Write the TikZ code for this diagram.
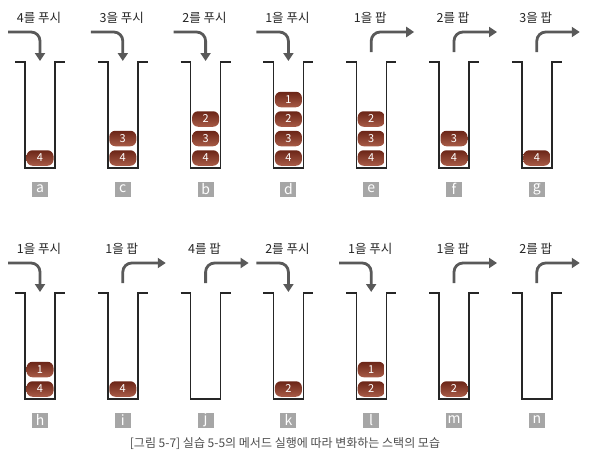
\documentclass[tikz,border=0pt]{standalone}
\usepackage{fontspec}
\setmainfont{Noto Sans CJK KR}
\usetikzlibrary{arrows.meta,calc}

\definecolor{ballDark}{HTML}{6B2517}
\definecolor{ballLight}{HTML}{A85B47}

\begin{document}
\begin{tikzpicture}[x=1pt,y=-1pt,
    wall/.style={line width=1.4pt,draw=black!85},
    move/.style={line width=2.8pt,draw=black!65,rounded corners=9pt,-{Triangle[length=8pt,width=10pt]}},
    ball/.style={rounded corners=6pt,minimum width=27pt,minimum height=15.5pt,inner sep=0pt,
      top color=ballDark,bottom color=ballLight,text=white,font=\fontsize{11}{12}\selectfont},
    tag/.style={fill=black!35,text=white,minimum width=16pt,minimum height=15pt,inner sep=0pt,
      font=\fontsize{14}{14}\selectfont},
    op/.style={text=black!85,font=\fontsize{12.5}{14}\selectfont}]
    \useasboundingbox (0,0) rectangle (590,471);

    % Stacks with their operation and letter
    \foreach \i/\s/\r/\op in {0/a/0/4를 푸시, 1/c/0/3을 푸시, 2/b/0/2를 푸시, 3/d/0/1을 푸시,
        4/e/0/1을 팝, 5/f/0/2를 팝, 6/g/0/3을 팝,
        0/h/1/1을 푸시, 1/i/1/1을 팝, 2/j/1/4를 팝, 3/k/1/2를 푸시,
        4/l/1/1을 푸시, 5/m/1/1을 팝, 6/n/1/2를 팝}{
      \coordinate (\s) at ({40+82.8*\i},{62+231*\r});
      \draw[wall] ($(\s)+(-25,0)$) -- ++(10,0) -- ++(0,106) -- ++(30,0) -- ++(0,-106) -- ++(10,0);
      \node[op] (\s-op) at ($(\s)+(-1,-44)$) {\op};
      \node[tag] (\s-tag) at ($(\s)+(0,127)$) {\s};
    }

    % Push arrows
    \foreach \s in {a,c,b,d,h,k,l}
      \draw[move] ($(\s)+(-32,-30)$) -- ($(\s)+(0,-30)$) -- ($(\s)+(0,-1)$);

    % Pop arrows
    \foreach \s in {e,f,g,i,j,m,n}
      \draw[move] ($(\s)+(0,-10)$) -- ($(\s)+(0,-30)$) -- ($(\s)+(43,-30)$);

    % Stack contents
    \foreach \s/\k/\v in {a/1/4, c/1/4, c/2/3, b/1/4, b/2/3, b/3/2,
        d/1/4, d/2/3, d/3/2, d/4/1, e/1/4, e/2/3, e/3/2, f/1/4, f/2/3, g/1/4,
        h/1/4, h/2/1, i/1/4, k/1/2, l/1/2, l/2/1, m/1/2}
      \node[ball] (\s-\k) at ($(\s)+(0,{96-19.5*(\k-1)})$) {\v};

    \node[text=black!70,font=\fontsize{12}{14}\selectfont] (caption) at (285,444)
      {[그림 5-7] 실습 5-5의 메서드 실행에 따라 변화하는 스택의 모습};
\end{tikzpicture}
\end{document}
